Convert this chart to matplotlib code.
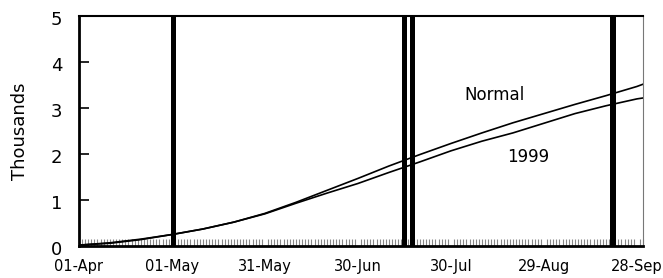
import matplotlib
matplotlib.use("Agg")
import matplotlib.pyplot as plt
import matplotlib.transforms as mtransforms
import numpy as np

# days since 01-Apr
days = [0, 10, 20, 30, 40, 50, 60, 70, 80, 90, 100, 110, 120, 130, 140, 150, 160, 170, 180, 182]
normal = [0.02, 0.06, 0.14, 0.25, 0.37, 0.52, 0.71, 0.95, 1.21, 1.47, 1.74, 1.99, 2.23, 2.46, 2.68, 2.88, 3.08, 3.27, 3.47, 3.52]
y1999 = [0.02, 0.07, 0.15, 0.25, 0.37, 0.52, 0.70, 0.93, 1.15, 1.36, 1.60, 1.83, 2.07, 2.28, 2.46, 2.67, 2.88, 3.05, 3.20, 3.22]

# event bars (day centers)
events = [30.5, 105.0, 107.6, 172.3]

tick_days = [0, 30, 60, 90, 120, 150, 180]
tick_labels = ["01-Apr", "01-May", "31-May", "30-Jun", "30-Jul", "29-Aug", "28-Sep"]

plt.rcParams['font.family'] = ['DejaVu Sans']

fig = plt.figure(figsize=(6.63, 2.78), dpi=100)
ax = fig.add_axes([0.119, 0.115, 0.851, 0.827])

ax.bar(events, [5] * len(events), width=1.8, bottom=0, color='black', align='center', zorder=3)
ax.plot(days, normal, color='black', lw=1.2, zorder=2)
ax.plot(days, y1999, color='black', lw=1.2, zorder=2)

ax.text(134, 3.28, "Normal", fontsize=12, ha='center', va='center')
ax.text(145, 1.93, "1999", fontsize=12, ha='center', va='center')

ax.set_xlim(0, 182)
ax.set_ylim(0, 5)
ax.set_xticks(tick_days)
ax.set_xticklabels(tick_labels, fontsize=10.5)
ax.set_xticks(np.arange(0, 183, 1), minor=True)
ax.set_yticks([0, 1, 2, 3, 4, 5])
ax.tick_params(axis='y', direction='in', length=7, width=1.2, labelsize=13, pad=12)
ax.tick_params(axis='x', which='major', direction='in', length=0, pad=9)
ax.tick_params(axis='x', which='minor', direction='in', length=5, width=0.8, color='#888888')
ax.set_ylabel("Thousands", fontsize=13, labelpad=16)

# nudge y labels slightly down like the original
offset = mtransforms.ScaledTranslation(0, -2 / 100, fig.dpi_scale_trans)
for lab in ax.get_yticklabels():
    lab.set_transform(lab.get_transform() + offset)

ax.spines['left'].set_linewidth(2)
ax.spines['bottom'].set_linewidth(2)
ax.spines['top'].set_linewidth(1.5)
ax.spines['right'].set_linewidth(0.8)
ax.spines['right'].set_color('#777777')

fig.savefig("out.png", dpi=100)
